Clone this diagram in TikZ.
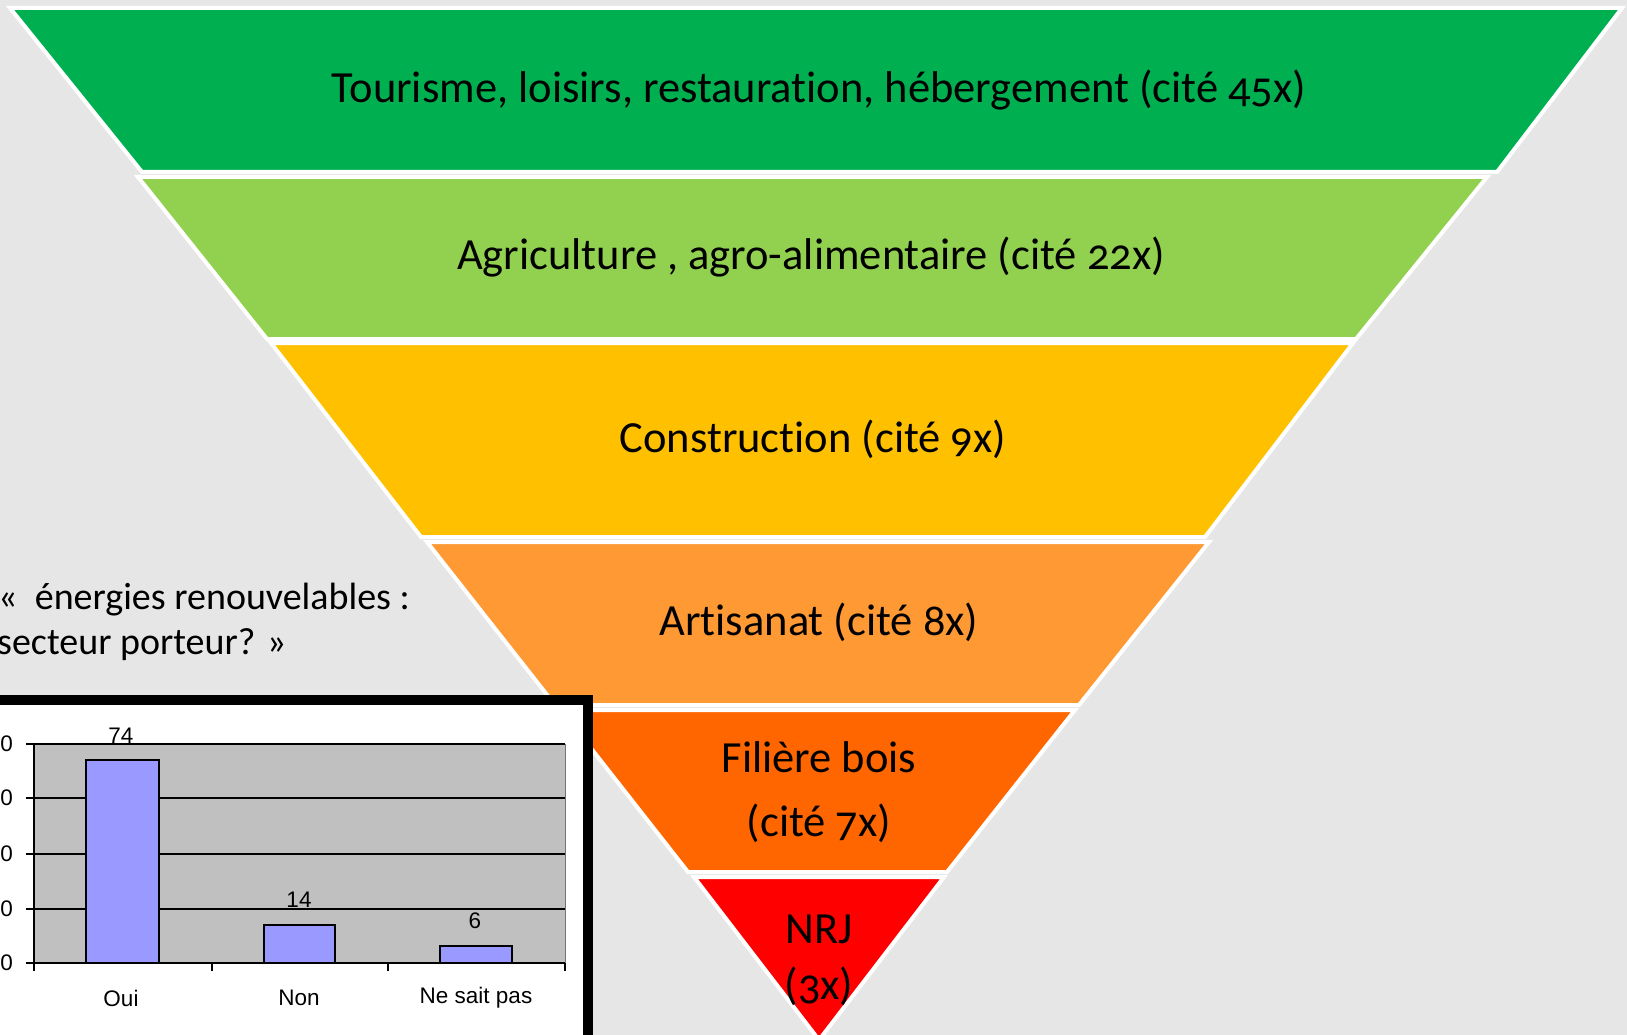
\documentclass[tikz,border=0pt]{standalone}
\usepackage{fontspec}
\setmainfont{Carlito}[Numbers=OldStyle, Ligatures=NoCommon]
\newfontfamily\chartfont{Liberation Sans}
\definecolor{bg}{HTML}{E6E6E6}
\definecolor{cgreen}{HTML}{00B050}
\definecolor{clgreen}{HTML}{92D050}
\definecolor{cyellow}{HTML}{FFC000}
\definecolor{corange}{HTML}{FF9933}
\definecolor{cdorange}{HTML}{FF6600}
\definecolor{cred}{HTML}{FF0000}
\definecolor{cbar}{HTML}{9999FF}
\definecolor{cplot}{HTML}{C0C0C0}
\tikzset{
  band/.style={draw=white, line width=4pt, line join=miter},
  bandtext/.style={font=\fontsize{44.5}{52}\selectfont, text=black, inner sep=0pt},
  qtext/.style={anchor=west, inner sep=0pt, font=\fontsize{38}{44}\selectfont},
  chtext/.style={font=\chartfont\fontsize{22.5}{26}\selectfont, inner sep=0pt},
  bar/.style={fill=cbar, draw=black, line width=1.6pt},
  grid/.style={draw=black, line width=1.6pt}
}
\begin{document}
\begin{tikzpicture}[x=1pt,y=-1pt]
\useasboundingbox (0,0) rectangle (1627,1035);
\fill[bg] (0,0) rectangle (1627,1035);
% bands
\path[band, fill=cgreen] (10,8) -- (1622,8) -- (1497,172) -- (142,172) -- cycle;
\path[band, fill=clgreen] (138,177) -- (1487,177) -- (1356,339) -- (267,339) -- cycle;
\path[band, fill=cyellow] (271,343) -- (1353,343) -- (1205,537) -- (421,537) -- cycle;
\path[band, fill=corange] (427,542) -- (1209,542) -- (1079,705) -- (555,705) -- cycle;
\path[band, fill=cdorange] (561,710) -- (1075,710) -- (947,872) -- (688,872) -- cycle;
\path[band, fill=cred] (694,877) -- (944,877) -- (819,1040) -- cycle;
% band texts
\node[bandtext] (t1) at (819,90) {Tourisme, loisirs, restauration, hébergement (cité 45x)};
\node[bandtext] (t2) at (811,257) {Agriculture , agro-alimentaire (cité 22x)};
\node[bandtext] (t3) at (813,439) {Construction (cité 9x)};
\node[bandtext] (t4) at (819,622) {Artisanat (cité 8x)};
\node[bandtext] (t5) at (819,757) {Filière bois};
\node[bandtext] (t5b) at (819,823) {(cité 7x)};
\node[bandtext] (t6) at (819,929) {NRJ};
\node[bandtext] (t6b) at (819,986) {(3x)};
% question
\node[qtext] (q1) at (-2,600) {«\ \ énergies renouvelables :};
\node[qtext] (q2) at (-3,645) {secteur porteur? »};
% chart frame
\path[fill=white, draw=black, line width=10pt] (-20,700) rectangle (588,1060);
\fill[cplot] (34,744) rectangle (565,963);
\foreach \yy in {744,798,854,909} { \draw[grid] (34,\yy) -- (565,\yy); }
\draw[draw=cplot!60!black, line width=1pt] (565,744) -- (565,963);
\draw[grid] (34,744) -- (34,971);
\draw[grid] (26,963) -- (565,963);
\foreach \yy in {744,798,854,909} { \draw[grid] (26,\yy) -- (34,\yy); }
\foreach \xx in {212,388,565} { \draw[grid] (\xx,963) -- (\xx,971); }
\node[chtext, anchor=east] (y80) at (13,744) {80};
\node[chtext, anchor=east] (y60) at (13,798) {60};
\node[chtext, anchor=east] (y40) at (13,854) {40};
\node[chtext, anchor=east] (y20) at (13,909) {20};
\node[chtext, anchor=east] (y0) at (13,963) {0};
\path[bar] (86,760) rectangle (159,963);
\path[bar] (264,925) rectangle (335,963);
\path[bar] (440,946) rectangle (512,963);
\node[chtext] (v1) at (121,736) {74};
\node[chtext] (v2) at (299,900) {14};
\node[chtext] (v3) at (475,921) {6};
\node[chtext] (c1) at (121,998) {Oui};
\node[chtext] (c2) at (299,998) {Non};
\node[chtext] (c3) at (476,998) {Ne sait pas};
\end{tikzpicture}
\end{document}
